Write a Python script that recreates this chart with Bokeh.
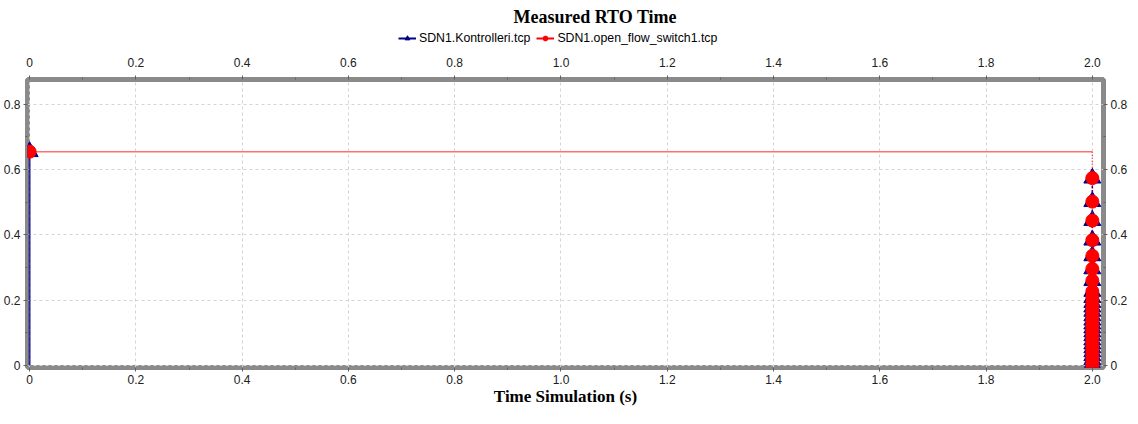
from bokeh.plotting import figure
from bokeh.layouts import column
from bokeh.models import (LinearAxis, FixedTicker, CustomJSTickFormatter, Legend, LegendItem,
                          Range1d, Label)
from bokeh.embed import file_html
from bokeh.resources import INLINE

# ---- data ----
x_ticks = [0, 0.2, 0.4, 0.6, 0.8, 1.0, 1.2, 1.4, 1.6, 1.8, 2.0]
y_ticks = [0, 0.2, 0.4, 0.6, 0.8]

start_time = 0.0
end_time = 2.0
initial_rto = 0.655

# RTO values recorded in the burst at the end of the simulation (both connections)
burst_rto = [0.574, 0.502, 0.444, 0.384, 0.336, 0.296, 0.26, 0.227, 0.208, 0.193,
             0.179, 0.166, 0.152, 0.139, 0.127, 0.115, 0.103, 0.091, 0.078, 0.066,
             0.054, 0.042, 0.03, 0.018, 0.006, 0.0]

series_names = ["SDN1.Kontrolleri.tcp", "SDN1.open_flow_switch1.tcp"]
chart_title = "Measured RTO Time"
x_label = "Time Simulation (s)"

# SDN1.Kontrolleri.tcp
ctrl_start_x = [start_time, start_time]
ctrl_start_y = [0.0, initial_rto]
ctrl_burst_x = [end_time] * len(burst_rto)
ctrl_burst_y = burst_rto

# SDN1.open_flow_switch1.tcp
sw_hold_x = [start_time, end_time]
sw_hold_y = [initial_rto, initial_rto]
sw_drop_x = [end_time] + [end_time] * len(burst_rto)
sw_drop_y = [initial_rto] + burst_rto

BLUE = "#00008B"
RED = "#FF0000"
TOTAL_W = 1129
HEAD_H = 54

# ---------------- header: title + legend ----------------
head = figure(width=TOTAL_W, height=HEAD_H, output_backend="svg", toolbar_location=None,
              x_range=Range1d(0, 1), y_range=Range1d(0, 1),
              x_axis_type=None, y_axis_type=None,
              min_border_left=0, min_border_right=0, min_border_top=0, min_border_bottom=0)
head.outline_line_color = None
head.grid.visible = False

head.add_layout(Label(x=486, y=38, x_units="screen", y_units="screen",
                      text=chart_title, text_font="Liberation Serif", text_font_size="18px",
                      text_font_style="bold", text_color="#000000",
                      text_align="left", text_baseline="middle"))

hb_line = head.line([-5, -4], [-5, -4], line_color=BLUE, line_width=2)
hb_mark = head.scatter([-5], [-5], marker="triangle", size=9, fill_color=BLUE, line_color=BLUE)
hr_line = head.line([-5, -4], [-5, -4], line_color=RED, line_width=2)
hr_mark = head.scatter([-5], [-5], marker="circle", size=7, fill_color=RED, line_color=RED)

legend = Legend(items=[
    LegendItem(label=series_names[0], renderers=[hb_line, hb_mark]),
    LegendItem(label=series_names[1], renderers=[hr_line, hr_mark]),
], orientation="horizontal", location=(371, 9))
legend.label_text_font = "Liberation Sans"
legend.label_text_font_size = "12.3px"
legend.label_text_color = "#000000"
legend.glyph_width = 18
legend.glyph_height = 12
legend.label_standoff = 3
legend.label_height = 12
legend.spacing = 6
legend.padding = 0
legend.margin = 0
legend.border_line_color = None
legend.background_fill_alpha = 0
head.add_layout(legend, "center")

# ---------------- main plot ----------------
p = figure(frame_width=1076, frame_height=288, output_backend="svg", toolbar_location=None,
           x_range=Range1d(-0.004, 2.021), y_range=Range1d(-0.006, 0.876),
           min_border_left=21, min_border_right=0, min_border_top=0, min_border_bottom=0)

p.outline_line_color = "#8a8a8a"
p.outline_line_width = 5
p.background_fill_color = "white"
p.border_fill_color = "white"

p.xgrid.ticker = FixedTicker(ticks=x_ticks)
p.ygrid.ticker = FixedTicker(ticks=y_ticks)
for g in (p.xgrid, p.ygrid):
    g.grid_line_color = "#d4d4d4"
    g.grid_line_dash = "3 3"
    g.grid_line_width = 1

fmt = CustomJSTickFormatter(code="return Math.abs(tick) < 1e-9 ? '0' : tick.toFixed(1);")


def style_axis(ax, ticks, label=None, standoff=8):
    step = ticks[1] - ticks[0]
    ax.ticker = FixedTicker(ticks=ticks, minor_ticks=[t + step / 2 for t in ticks[:-1]])
    ax.formatter = fmt
    ax.axis_line_color = None
    ax.major_tick_line_color = "#606060"
    ax.minor_tick_line_color = "#606060"
    ax.major_tick_in = 0
    ax.major_tick_out = 4
    ax.minor_tick_in = 0
    ax.minor_tick_out = 2
    ax.major_label_text_font = "Liberation Sans"
    ax.major_label_text_font_size = "12px"
    ax.major_label_text_color = "#202020"
    ax.major_label_standoff = standoff
    if label:
        ax.axis_label = label
        ax.axis_label_text_font = "Liberation Serif"
        ax.axis_label_text_font_size = "17px"
        ax.axis_label_text_font_style = "bold"
        ax.axis_label_text_color = "#000000"
        ax.axis_label_standoff = 0


style_axis(p.xaxis[0], x_ticks, x_label, standoff=3)
style_axis(p.yaxis[0], y_ticks, standoff=3)

top_axis = LinearAxis()
style_axis(top_axis, x_ticks, standoff=9)
p.add_layout(top_axis, "above")

right_axis = LinearAxis()
style_axis(right_axis, y_ticks, standoff=3)
p.add_layout(right_axis, "right")

# Kontrolleri (blue)
p.line(ctrl_start_x, ctrl_start_y, line_color=BLUE, line_width=2, line_alpha=0.75)
p.line(ctrl_burst_x, ctrl_burst_y, line_color=BLUE, line_width=1.5, line_dash="2 2")
p.scatter(ctrl_burst_x, ctrl_burst_y, marker="triangle", size=17, fill_color=BLUE, line_color=BLUE)
p.scatter([start_time], [initial_rto], marker="triangle", size=17, fill_color=BLUE, line_color=BLUE)

# open_flow_switch1 (red)
p.line(sw_hold_x, sw_hold_y, line_color="#FF7070", line_width=1.5)
p.line(sw_drop_x, sw_drop_y, line_color=RED, line_width=1.5, line_dash="1 2", line_alpha=0.8)
p.scatter(ctrl_burst_x, burst_rto, marker="circle", size=13, fill_color=RED, line_color=RED)
p.scatter([start_time], [initial_rto], marker="circle", size=13, fill_color=RED, line_color=RED)

layout = column(head, p, spacing=0)
open("out.html", "w").write(file_html(layout, INLINE))
